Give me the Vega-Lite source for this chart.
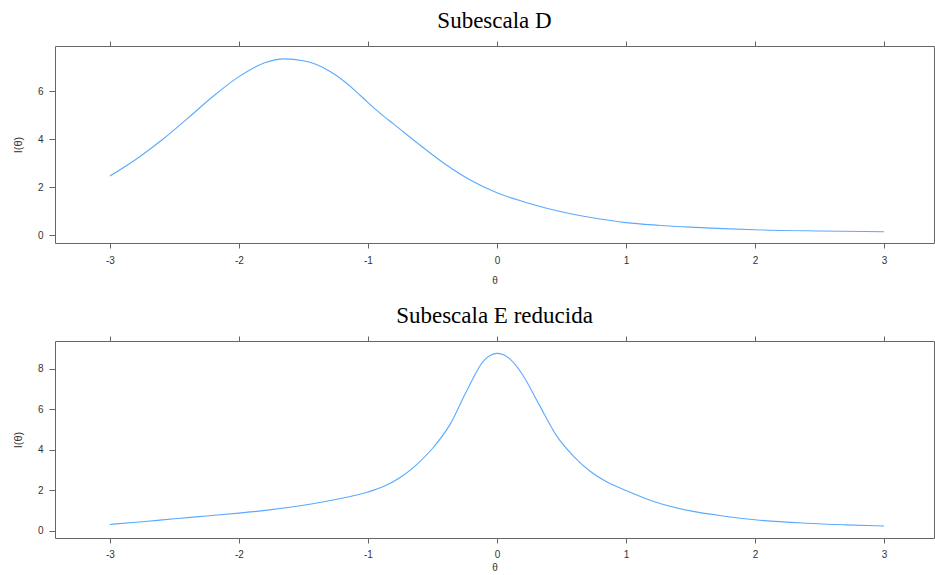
{
  "$schema": "https://vega.github.io/schema/vega-lite/v6.json",
  "padding": {"left": 11, "top": 9, "right": 0, "bottom": 0},
  "background": "white",
  "config": {
    "view": {"stroke": "#666666", "strokeWidth": 1},
    "font": "Liberation Sans",
    "axis": {"domain": false, "grid": false, "tickColor": "#666666", "tickSize": 5, "labelColor": "#333333", "labelFontSize": 10, "labelFont": "Liberation Sans", "titleFont": "Liberation Sans", "titleFontWeight": "normal", "titleColor": "#333333"},
    "title": {"font": "Liberation Serif", "fontSize": 23, "fontWeight": "normal", "color": "#000000", "anchor": "middle", "offset": 8}
  },
  "datasets": {
    "d": [
      {"theta": -3.0, "info": 2.46}, {"theta": -2.8, "info": 3.15}, {"theta": -2.6, "info": 3.95}, {"theta": -2.4, "info": 4.85},
      {"theta": -2.2, "info": 5.78}, {"theta": -2.0, "info": 6.6}, {"theta": -1.8, "info": 7.18}, {"theta": -1.65, "info": 7.34},
      {"theta": -1.5, "info": 7.26}, {"theta": -1.4, "info": 7.1}, {"theta": -1.3, "info": 6.83}, {"theta": -1.2, "info": 6.47},
      {"theta": -1.1, "info": 6.02}, {"theta": -1.0, "info": 5.52}, {"theta": -0.9, "info": 5.05},
      {"theta": -0.8, "info": 4.62}, {"theta": -0.7, "info": 4.19}, {"theta": -0.6, "info": 3.76}, {"theta": -0.4, "info": 2.95}, {"theta": -0.2, "info": 2.27},
      {"theta": 0.0, "info": 1.76}, {"theta": 0.2, "info": 1.4}, {"theta": 0.4, "info": 1.1}, {"theta": 0.6, "info": 0.86},
      {"theta": 0.8, "info": 0.67}, {"theta": 1.0, "info": 0.52}, {"theta": 1.25, "info": 0.41}, {"theta": 1.5, "info": 0.33},
      {"theta": 1.75, "info": 0.27}, {"theta": 2.0, "info": 0.22}, {"theta": 2.5, "info": 0.17}, {"theta": 3.0, "info": 0.14}
    ],
    "e": [
      {"theta": -3.0, "info": 0.32}, {"theta": -2.75, "info": 0.45}, {"theta": -2.5, "info": 0.6}, {"theta": -2.25, "info": 0.74},
      {"theta": -2.0, "info": 0.88}, {"theta": -1.75, "info": 1.05}, {"theta": -1.5, "info": 1.27}, {"theta": -1.25, "info": 1.55},
      {"theta": -1.0, "info": 1.92}, {"theta": -0.88, "info": 2.19}, {"theta": -0.75, "info": 2.64}, {"theta": -0.62, "info": 3.29},
      {"theta": -0.5, "info": 4.07}, {"theta": -0.36, "info": 5.3}, {"theta": -0.24, "info": 6.85}, {"theta": -0.1, "info": 8.42},
      {"theta": -0.05, "info": 8.68}, {"theta": 0.0, "info": 8.77}, {"theta": 0.05, "info": 8.7}, {"theta": 0.1, "info": 8.5},
      {"theta": 0.15, "info": 8.15}, {"theta": 0.2, "info": 7.7}, {"theta": 0.33, "info": 6.2}, {"theta": 0.46, "info": 4.72}, {"theta": 0.6, "info": 3.65},
      {"theta": 0.72, "info": 2.96}, {"theta": 0.85, "info": 2.43}, {"theta": 1.0, "info": 2.0}, {"theta": 1.24, "info": 1.4},
      {"theta": 1.5, "info": 0.99}, {"theta": 1.75, "info": 0.74}, {"theta": 2.0, "info": 0.55}, {"theta": 2.4, "info": 0.38},
      {"theta": 2.7, "info": 0.3}, {"theta": 3.0, "info": 0.24}
    ]
  },
  "spacing": 18,
  "vconcat": [
    {
      "title": {"text": "Subescala D"},
      "width": 879,
      "height": 197,
      "data": {"name": "d"},
      "layer": [
        {
          "mark": {"type": "line", "color": "#5aaaff", "strokeWidth": 1.1, "interpolate": "monotone"},
          "encoding": {
            "x": {"field": "theta", "type": "quantitative", "scale": {"domain": [-3.426, 3.388], "nice": false, "zero": false},
                  "axis": {"values": [-3, -2, -1, 0, 1, 2, 3], "labelExpr": "datum.value < 0 ? '-' + abs(datum.value) : '' + datum.value", "title": "θ", "labelPadding": 7, "titlePadding": 10, "titleFontSize": 10}},
            "y": {"field": "info", "type": "quantitative", "scale": {"domain": [-0.33, 7.875], "nice": false, "zero": false},
                  "axis": {"values": [0, 2, 4, 6], "title": "I(θ)", "labelAngle": 0, "tickSize": 6, "labelPadding": 6, "titlePadding": 14, "titleFontSize": 11}}
          }
        },
        {
          "mark": {"type": "line", "opacity": 0},
          "encoding": {
            "x": {"field": "theta", "type": "quantitative", "axis": {"orient": "top", "labels": false, "title": null, "values": [-3, -2, -1, 0, 1, 2, 3]}},
            "y": {"field": "info", "type": "quantitative"}
          }
        }
      ],
      "resolve": {"axis": {"x": "independent"}}
    },
    {
      "title": {"text": "Subescala E reducida"},
      "width": 879,
      "height": 197,
      "data": {"name": "e"},
      "layer": [
        {
          "mark": {"type": "line", "color": "#5aaaff", "strokeWidth": 1.1, "interpolate": "monotone"},
          "encoding": {
            "x": {"field": "theta", "type": "quantitative", "scale": {"domain": [-3.426, 3.388], "nice": false, "zero": false},
                  "axis": {"values": [-3, -2, -1, 0, 1, 2, 3], "labelExpr": "datum.value < 0 ? '-' + abs(datum.value) : '' + datum.value", "title": "θ", "labelPadding": 6, "titlePadding": 3, "titleFontSize": 10}},
            "y": {"field": "info", "type": "quantitative", "scale": {"domain": [-0.35, 9.38], "nice": false, "zero": false},
                  "axis": {"values": [0, 2, 4, 6, 8], "title": "I(θ)", "labelAngle": 0, "tickSize": 6, "labelPadding": 6, "titlePadding": 14, "titleFontSize": 11}}
          }
        },
        {
          "mark": {"type": "line", "opacity": 0},
          "encoding": {
            "x": {"field": "theta", "type": "quantitative", "axis": {"orient": "top", "labels": false, "title": null, "values": [-3, -2, -1, 0, 1, 2, 3]}},
            "y": {"field": "info", "type": "quantitative"}
          }
        }
      ],
      "resolve": {"axis": {"x": "independent"}}
    }
  ]
}
